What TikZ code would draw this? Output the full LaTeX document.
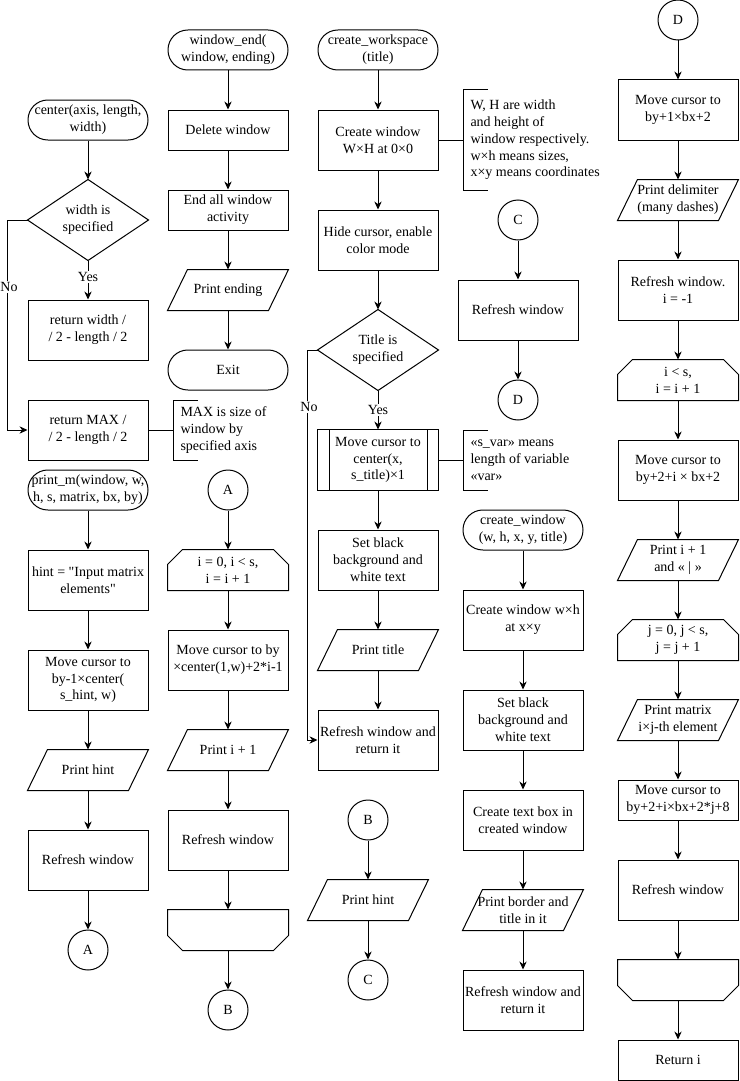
\documentclass[tikz,border=0pt]{standalone}
\usepackage{fontspec}
\setmainfont{Liberation Serif}
\usetikzlibrary{arrows.meta}
\newcommand\diafont{\fontsize{10.5pt}{12.6pt}\selectfont}
\newcommand\drawio[1]{\draw (#1.south west) -- ([xshift=15pt]#1.north west) -- (#1.north east) -- ([xshift=-15pt]#1.south east) -- cycle;}
\newcommand\drawloopS[1]{\draw (#1.south west) -- ([yshift=-11.25pt]#1.north west) -- ([xshift=11.25pt]#1.north west) -- ([xshift=-11.25pt]#1.north east) -- ([yshift=-11.25pt]#1.north east) -- (#1.south east) -- cycle;}
\newcommand\drawloopE[1]{\draw (#1.north west) -- ([yshift=11.25pt]#1.south west) -- ([xshift=11.25pt]#1.south west) -- ([xshift=-11.25pt]#1.south east) -- ([yshift=11.25pt]#1.south east) -- (#1.north east) -- cycle;}
\newcommand\drawdia[1]{\draw (#1.west) -- (#1.north) -- (#1.east) -- (#1.south) -- cycle;}
\newcommand\drawpred[1]{\draw (#1.north west) rectangle (#1.south east); \draw ([xshift=9pt]#1.north west) -- ([xshift=9pt]#1.south west); \draw ([xshift=-8.5pt]#1.north east) -- ([xshift=-8.5pt]#1.south east);}
\begin{document}
\begin{tikzpicture}[x=0.75pt,y=-0.75pt,line width=0.75pt,
  base/.style={font=\diafont, align=center, inner sep=0pt, minimum width=90pt},
  proc/.style={base, draw, rectangle, minimum height=45pt},
  procs/.style={base, draw, rectangle, minimum height=30pt},
  term/.style={base, draw, rectangle, rounded corners=14.9pt, minimum height=30pt},
  ghost/.style={base, rectangle, minimum height=30pt},
  ghostd/.style={base, rectangle, minimum height=60pt},
  conn/.style={draw, circle, minimum size=30pt, inner sep=0pt, font=\diafont},
  note/.style={font=\diafont, align=left, anchor=west, inner sep=0pt},
  lbl/.style={font=\diafont, fill=white, inner sep=1pt},
  arr/.style={-{Stealth[length=6pt,width=5.5pt]}}]
\useasboundingbox (0,0) rectangle (739,1081);
\fill[white] (0,0) rectangle (739,1081);

% ---------- column 1 ----------
\node[term] (t1) at (88,120) {center(axis, length,\\width)};
\node[ghostd] (d1) at (88,220) {width is\\specified};
\drawdia{d1}
\node[proc] (r1) at (88,330) {return width /\\/ 2 - length / 2};
\node[proc] (r2) at (88,430) {return MAX /\\/ 2 - length / 2};
\coordinate (k1) at (173,430);
\draw (198,400) -- (173,400) -- (173,460) -- (198,460);
\node[note] (n1) at (180,430) {MAX is size of\\window by\\specified axis};
\draw (r2.east) -- (k1);
\draw[arr] (t1.south) -- (d1.north);
\draw[arr] (d1.south) -- node[lbl, pos=0.43] {Yes} (r1.north);
\draw[arr] (d1.west) -- ++(-20,0) |- (r2.west);
\node[lbl] (no1) at (9,287) {No};

\node[term] (t2) at (88,490) {print\_m(window, w,\\h, s, matrix, bx, by)};
\node[proc] (b1) at (88,580) {hint = \textquotedbl Input matrix\\elements\textquotedbl};
\node[proc] (b2) at (88,680) {Move cursor to\\by-1×center(\\s\_hint, w)};
\node[ghost] (p1) at (88,770) {Print hint};
\drawio{p1}
\node[proc] (b3) at (88,860) {Refresh window};
\node[conn] (cA1) at (88,950) {A};
\draw[arr] (t2.south) -- (b1.north);
\draw[arr] (b1.south) -- (b2.north);
\draw[arr] (b2.south) -- (p1.north);
\draw[arr] (p1.south) -- (b3.north);
\draw[arr] (b3.south) -- (cA1.north);

% ---------- column 2 ----------
\node[term] (t3) at (228,50) {window\_end(\\window, ending)};
\node[procs] (b4) at (228,130) {Delete window};
\node[procs] (b5) at (228,210) {End all window\\activity};
\node[ghost] (p2) at (228,290) {Print ending};
\drawio{p2}
\node[term] (t4) at (228,370) {Exit};
\draw[arr] (t3.south) -- (b4.north);
\draw[arr] (b4.south) -- (b5.north);
\draw[arr] (b5.south) -- (p2.north);
\draw[arr] (p2.south) -- (t4.north);

\node[conn] (cA2) at (228,490) {A};
\node[ghost] (l1) at (228,570) {i = 0, i < s,\\i = i + 1};
\drawloopS{l1}
\node[proc] (b6) at (228,660) {Move cursor to by\\×center(1,w)+2*i-1};
\node[ghost] (p3) at (228,750) {Print i + 1};
\drawio{p3}
\node[proc] (b7) at (228,840) {Refresh window};
\node[ghost] (le1) at (228,930) {};
\drawloopE{le1}
\node[conn] (cB1) at (228,1010) {B};
\draw[arr] (cA2.south) -- (l1.north);
\draw[arr] (l1.south) -- (b6.north);
\draw[arr] (b6.south) -- (p3.north);
\draw[arr] (p3.south) -- (b7.north);
\draw[arr] (b7.south) -- (le1.north);
\draw[arr] (le1.south) -- (cB1.north);

% ---------- column 3 ----------
\node[term] (t5) at (378,50) {create\_workspace\\(title)};
\node[proc] (b8) at (378,140) {Create window\\W×H at 0×0};
\coordinate (k2) at (463,140);
\draw (488,90) -- (463,90) -- (463,190) -- (488,190);
\node[note] (n2) at (470,140) {W, H are width\\and height of\\window respectively.\\w×h means sizes,\\x×y means coordinates};
\draw (b8.east) -- (k2);
\node[proc] (b9) at (378,240) {Hide cursor, enable\\color mode};
\node[ghostd] (d2) at (378,350) {Title is\\specified};
\drawdia{d2}
\node[base, minimum height=45pt] (pp) at (378,460) {Move cursor to\\center(x,\\s\_title)×1};
\drawpred{pp}
\coordinate (k3) at (463,460);
\draw (488,430) -- (463,430) -- (463,490) -- (488,490);
\node[note] (n3) at (470,460) {«s\_var» means\\length of variable\\«var»};
\draw (pp.east) -- (k3);
\node[proc] (b10) at (378,560) {Set black\\background and\\white text};
\node[ghost] (p4) at (378,650) {Print title};
\drawio{p4}
\node[proc] (b11) at (378,740) {Refresh window and\\return it};
\draw[arr] (t5.south) -- (b8.north);
\draw[arr] (b8.south) -- (b9.north);
\draw[arr] (b9.south) -- (d2.north);
\draw[arr] (d2.south) -- node[lbl, pos=0.5] {Yes} (pp.north);
\draw[arr] (pp.south) -- (b10.north);
\draw[arr] (b10.south) -- (p4.north);
\draw[arr] (p4.south) -- (b11.north);
\draw[arr] (d2.west) -- ++(-10,0) |- (b11.west);
\node[lbl] (no2) at (309,407) {No};

\node[conn] (cB2) at (368,820) {B};
\node[ghost] (p5) at (368,900) {Print hint};
\drawio{p5}
\node[conn] (cC1) at (368,980) {C};
\draw[arr] (cB2.south) -- (p5.north);
\draw[arr] (p5.south) -- (cC1.north);

% ---------- column 4 ----------
\node[conn] (cC2) at (518,220) {C};
\node[proc] (b12) at (518,310) {Refresh window};
\node[conn] (cD1) at (518,400) {D};
\draw[arr] (cC2.south) -- (b12.north);
\draw[arr] (b12.south) -- (cD1.north);

\node[term] (t6) at (523,530) {create\_window\\(w, h, x, y, title)};
\node[proc] (b13) at (523,620) {Create window w×h\\at x×y};
\node[proc] (b14) at (523,720) {Set black\\background and\\white text};
\node[proc] (b15) at (523,820) {Create text box in\\created window};
\node[ghost] (p6) at (523,910) {Print border and\\title in it};
\drawio{p6}
\node[proc] (b16) at (523,1000) {Refresh window and\\return it};
\draw[arr] (t6.south) -- (b13.north);
\draw[arr] (b13.south) -- (b14.north);
\draw[arr] (b14.south) -- (b15.north);
\draw[arr] (b15.south) -- (p6.north);
\draw[arr] (p6.south) -- (b16.north);

% ---------- column 5 ----------
\node[conn] (cD2) at (678,20) {D};
\node[proc] (b17) at (678,110) {Move cursor to\\by+1×bx+2};
\node[ghost] (p7) at (678,200) {Print delimiter\\(many dashes)};
\drawio{p7}
\node[proc] (b18) at (678,290) {Refresh window.\\i = -1};
\node[ghost] (l2) at (678,380) {i < s,\\i = i + 1};
\drawloopS{l2}
\node[proc] (b19) at (678,470) {Move cursor to\\by+2+i × bx+2};
\node[ghost] (p8) at (678,560) {Print i + 1\\and « | »};
\drawio{p8}
\node[ghost] (l3) at (678,640) {j = 0, j < s,\\j = j + 1};
\drawloopS{l3}
\node[ghost] (p9) at (678,720) {Print matrix\\i×j-th element};
\drawio{p9}
\node[procs] (b20) at (678,800) {Move cursor to\\by+2+i×bx+2*j+8};
\node[proc] (b21) at (678,890) {Refresh window};
\node[ghost] (le2) at (678,980) {};
\drawloopE{le2}
\node[procs] (b22) at (678,1060) {Return i};
\draw[arr] (cD2.south) -- (b17.north);
\draw[arr] (b17.south) -- (p7.north);
\draw[arr] (p7.south) -- (b18.north);
\draw[arr] (b18.south) -- (l2.north);
\draw[arr] (l2.south) -- (b19.north);
\draw[arr] (b19.south) -- (p8.north);
\draw[arr] (p8.south) -- (l3.north);
\draw[arr] (l3.south) -- (p9.north);
\draw[arr] (p9.south) -- (b20.north);
\draw[arr] (b20.south) -- (b21.north);
\draw[arr] (b21.south) -- (le2.north);
\draw[arr] (le2.south) -- (b22.north);
\end{tikzpicture}
\end{document}
